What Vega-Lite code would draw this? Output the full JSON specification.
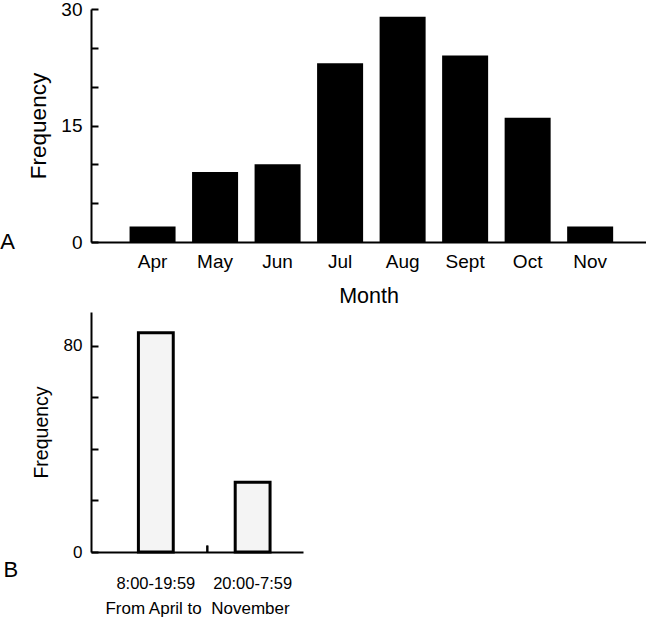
{
  "$schema": "https://vega.github.io/schema/vega-lite/v6.json",
  "padding": {"left": 0, "top": 0, "right": 0, "bottom": 0},
  "background": "white",
  "config": {
    "font": "Liberation Sans",
    "view": {"stroke": null},
    "axis": {"domainColor": "black", "domainWidth": 2, "tickColor": "black", "tickWidth": 2, "labelColor": "black", "titleColor": "black", "titleFontWeight": "normal", "grid": false},
    "title": {"color": "black", "fontWeight": "normal"}
  },
  "spacing": 5,
  "vconcat": [
    {
      "width": 555,
      "height": 233,
      "title": {"text": "A", "orient": "left", "anchor": "start", "frame": "group", "angle": 0, "baseline": "middle", "fontSize": 22, "offset": 13},
      "data": {"values": [
        {"Month": "Apr", "Frequency": 2},
        {"Month": "May", "Frequency": 9},
        {"Month": "Jun", "Frequency": 10},
        {"Month": "Jul", "Frequency": 23},
        {"Month": "Aug", "Frequency": 29},
        {"Month": "Sept", "Frequency": 24},
        {"Month": "Oct", "Frequency": 16},
        {"Month": "Nov", "Frequency": 2}
      ]},
      "mark": {"type": "bar", "color": "black"},
      "encoding": {
        "x": {"field": "Month", "type": "nominal", "sort": ["Apr", "May", "Jun", "Jul", "Aug", "Sept", "Oct", "Nov"],
          "scale": {"paddingInner": 0.264, "paddingOuter": 0.571, "align": 0.54},
          "axis": {"title": "Month", "labelAngle": 0, "ticks": false, "labelFontSize": 19, "labelPadding": 10, "titleFontSize": 21.5, "titlePadding": 14}},
        "y": {"field": "Frequency", "type": "quantitative", "scale": {"domain": [0, 30]},
          "axis": {"values": [0, 5, 10, 15, 20, 25, 30], "labelExpr": "datum.value % 15 === 0 ? datum.label : ''", "tickSize": -7, "labelPadding": 16, "labelFontSize": 19, "titleFontSize": 22.5, "titlePadding": 10}}
      }
    },
    {
      "width": 212,
      "height": 240,
      "title": {"text": "B", "orient": "left", "anchor": "start", "frame": "group", "angle": 0, "baseline": "middle", "fontSize": 22, "offset": 13, "dy": 18},
      "data": {"values": [
        {"Period": "8:00-19:59", "Frequency": 85},
        {"Period": "20:00-7:59", "Frequency": 27}
      ]},
      "layer": [
        {
          "mark": {"type": "bar", "fill": "#f4f4f4", "stroke": "black", "strokeWidth": 3},
          "encoding": {
            "x": {"field": "Period", "type": "nominal", "sort": ["8:00-19:59", "20:00-7:59"],
              "scale": {"paddingInner": 0.64, "paddingOuter": 0.415, "align": 0.59},
              "axis": {"title": "From April to\u00a0 November", "labelAngle": 0, "ticks": false, "labelFontSize": 16.5, "labelPadding": 23, "titleFontSize": 17, "titlePadding": 9}},
            "y": {"field": "Frequency", "type": "quantitative", "scale": {"domain": [0, 93], "nice": false},
              "axis": {"values": [0, 20, 40, 60, 80], "labelExpr": "datum.value === 0 || datum.value === 80 ? datum.label : ''", "tickSize": -7, "labelPadding": 16, "labelFontSize": 17, "titleFontSize": 19.5, "titlePadding": 12, "title": "Frequency"}}
          }
        },
        {
          "mark": {"type": "rule", "strokeWidth": 2, "color": "black"},
          "encoding": {
            "x": {"datum": "20:00-7:59", "type": "nominal", "bandPosition": -0.8},
            "y": {"datum": 0, "type": "quantitative"},
            "y2": {"datum": 2.5}
          }
        }
      ]
    }
  ]
}
